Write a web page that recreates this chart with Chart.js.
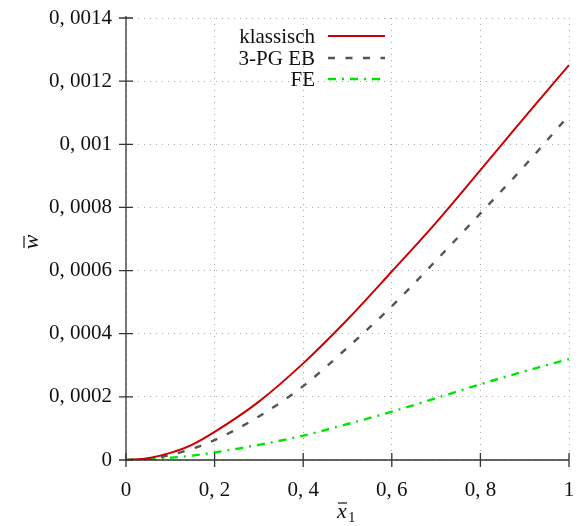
<!DOCTYPE html>
<html>
<head>
<meta charset="utf-8">
<script src="https://cdn.jsdelivr.net/npm/chart.js@4/dist/chart.umd.min.js"></script>
<style>
  html, body { margin: 0; padding: 0; background: #fff; }
  #wrap { width: 579px; height: 526px; }
</style>
</head>
<body>
<div id="wrap"><canvas id="c" width="579" height="526"></canvas></div>
<script>
// Normalised position along the beam
const xValues = [0, 0.05, 0.1, 0.15, 0.2, 0.3, 0.4, 0.5, 0.6, 0.7, 0.8, 0.9, 1.0];

// Deflection per model
const klassisch = [0, 0.0000058, 0.0000225, 0.000049, 0.000089, 0.000185, 0.000306, 0.000445, 0.000597, 0.000752, 0.000918, 0.001086, 0.001251];
const pgEB      = [0, 0.000004, 0.000016, 0.000036, 0.000063, 0.000138, 0.000234, 0.000356, 0.000487, 0.000632, 0.000781, 0.000932, 0.001092];
const fe        = [0, 0.000002, 0.000007, 0.000014, 0.000024, 0.000048, 0.000077, 0.000114, 0.000153, 0.000196, 0.000240, 0.000281, 0.000320];

const seriesNames = ['klassisch', '3-PG EB', 'FE'];

const xTickLabels = ['0', '0, 2', '0, 4', '0, 6', '0, 8', '1'];
const yTickLabels = ['0', '0, 0002', '0, 0004', '0, 0006', '0, 0008', '0, 001', '0, 0012', '0, 0014'];

const FONT = '"Liberation Serif", "Times New Roman", serif';
const toPoints = arr => xValues.map((x, i) => ({ x: x, y: arr[i] }));

const styles = [
  { color: '#cc0000', width: 2,   dash: [] },
  { color: '#555555', width: 2.4, dash: [7, 10.5] },
  { color: '#00e600', width: 2.4, dash: [8, 6, 2, 6] }
];

const datasets = [klassisch, pgEB, fe].map((arr, i) => ({
  label: seriesNames[i],
  data: toPoints(arr),
  borderColor: styles[i].color,
  borderWidth: styles[i].width,
  borderDash: styles[i].dash,
  pointRadius: 0,
  fill: false,
  cubicInterpolationMode: 'monotone'
}));

// Axis lines, crossing tick marks, legend and axis titles
const decorations = {
  id: 'decorations',
  afterDatasetsDraw(chart) {
    const ctx = chart.ctx;
    const xs = chart.scales.x, ys = chart.scales.y;
    const a = chart.chartArea;
    ctx.save();
    ctx.strokeStyle = '#333';
    ctx.lineWidth = 1.3;
    ctx.beginPath();
    ctx.moveTo(a.left, a.top - 2);
    ctx.lineTo(a.left, a.bottom);
    ctx.lineTo(a.right, a.bottom);
    ctx.stroke();
    ctx.beginPath();
    xs.ticks.forEach(t => {
      const px = xs.getPixelForValue(t.value);
      ctx.moveTo(px, a.bottom - 7);
      ctx.lineTo(px, a.bottom + 7);
    });
    ys.ticks.forEach(t => {
      const py = ys.getPixelForValue(t.value);
      ctx.moveTo(a.left - 7, py);
      ctx.lineTo(a.left + 7, py);
    });
    ctx.stroke();

    // legend: right-aligned names followed by line samples
    const rowY = [36, 58, 79];
    chart.data.datasets.forEach((ds, i) => {
      ctx.font = '21px ' + FONT;
      ctx.fillStyle = '#111';
      ctx.textAlign = 'right';
      ctx.textBaseline = 'middle';
      ctx.fillText(ds.label, 315, rowY[i] + 1);
      ctx.strokeStyle = ds.borderColor;
      ctx.lineWidth = ds.borderWidth;
      ctx.setLineDash(ds.borderDash);
      ctx.beginPath();
      ctx.moveTo(328, rowY[i]);
      ctx.lineTo(385, rowY[i]);
      ctx.stroke();
      ctx.setLineDash([]);
    });

    // x axis title
    ctx.fillStyle = '#111';
    ctx.textAlign = 'left';
    ctx.textBaseline = 'alphabetic';
    ctx.font = 'italic 22px ' + FONT;
    ctx.fillText('x', 337, 518);
    ctx.font = '15px ' + FONT;
    ctx.fillText('1', 348, 522);
    ctx.strokeStyle = '#111';
    ctx.lineWidth = 1.2;
    ctx.beginPath();
    ctx.moveTo(338, 503);
    ctx.lineTo(347, 503);
    ctx.stroke();

    // y axis title
    ctx.translate(38, 242);
    ctx.rotate(-Math.PI / 2);
    ctx.font = 'italic 22px ' + FONT;
    ctx.textAlign = 'center';
    ctx.fillText('w', 0, 0);
    ctx.beginPath();
    ctx.moveTo(-6, -14);
    ctx.lineTo(6, -14);
    ctx.stroke();
    ctx.restore();
  }
};

new Chart(document.getElementById('c'), {
  type: 'line',
  data: { datasets: datasets },
  options: {
    responsive: false,
    devicePixelRatio: 1,
    animation: false,
    layout: { padding: { top: 18, right: 10, left: 0, bottom: 0 } },
    plugins: { legend: { display: false }, tooltip: { enabled: false } },
    scales: {
      x: {
        type: 'linear',
        min: 0, max: 1,
        afterFit: s => { s.height = 66; s.paddingLeft = 0; s.paddingRight = 0; },
        ticks: {
          stepSize: 0.2,
          padding: 18,
          color: '#111',
          font: { family: FONT, size: 21 },
          maxRotation: 0,
          callback: (v, i) => xTickLabels[i]
        },
        grid: { color: '#a8a8a8', lineWidth: 1, drawTicks: false },
        border: { display: false, dash: [1, 5] }
      },
      y: {
        type: 'linear',
        min: 0, max: 0.0014,
        afterFit: s => { s.width = 126; s.paddingTop = 0; s.paddingBottom = 0; },
        ticks: {
          stepSize: 0.0002,
          padding: 14,
          color: '#111',
          font: { family: FONT, size: 21 },
          callback: (v, i) => yTickLabels[i]
        },
        grid: { color: '#a8a8a8', lineWidth: 1, drawTicks: false },
        border: { display: false, dash: [1, 5] }
      }
    }
  },
  plugins: [decorations]
});
</script>
</body>
</html>
